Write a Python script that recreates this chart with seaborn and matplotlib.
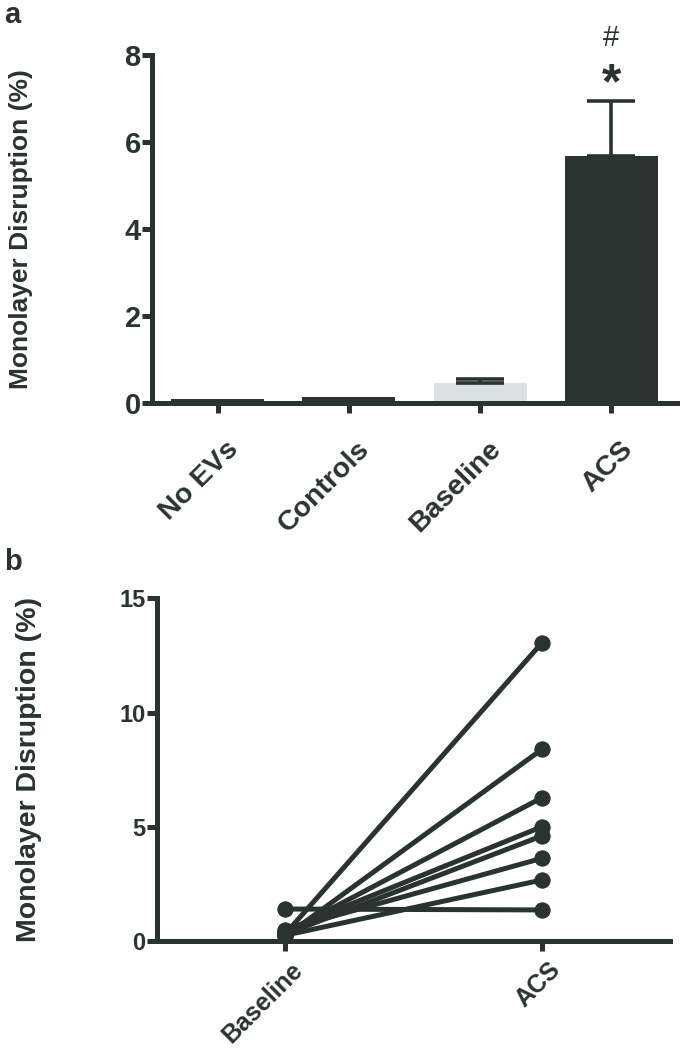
import matplotlib
matplotlib.use("Agg")
import matplotlib.pyplot as plt
import matplotlib.transforms as mtransforms
import seaborn as sns
import numpy as np
import pandas as pd

# ---- data ----
groups_a = ["No EVs", "Controls", "Baseline", "ACS"]
means_a = [0.10, 0.13, 0.47, 5.68]
sem_a = [0.0, 0.0, 0.09, 1.27]

subjects = [1, 2, 3, 4, 5, 6, 7, 8]
baseline_b = [0.30, 0.20, 0.35, 0.45, 0.30, 0.50, 0.25, 1.40]
acs_b = [13.05, 8.39, 6.27, 5.00, 4.60, 3.62, 2.67, 1.36]
conds_b = ["Baseline", "ACS"]

DARK = "#2b3331"
LIGHT = "#d9e1e2"
bar_colors = [DARK, DARK, LIGHT, DARK]

sns.set_theme(style="ticks")
plt.rcParams["font.family"] = ["Liberation Sans", "DejaVu Sans"]
plt.rcParams["axes.edgecolor"] = DARK
plt.rcParams["xtick.color"] = DARK
plt.rcParams["ytick.color"] = DARK
plt.rcParams["text.color"] = DARK
plt.rcParams["axes.labelcolor"] = DARK

fig = plt.figure(figsize=(6.84, 10.5), dpi=100)


def shift_labels(ax, dx_px, dy_px):
    off = mtransforms.ScaledTranslation(dx_px / 100.0, dy_px / 100.0,
                                        fig.dpi_scale_trans)
    for lab in ax.get_xticklabels():
        lab.set_transform(lab.get_transform() + off)


# ---------------- panel a ----------------
ax1 = fig.add_axes([0.222, 0.6162, 0.768, 0.3314])
df_a = pd.DataFrame({"group": groups_a, "value": means_a})
sns.barplot(data=df_a, x="group", y="value", hue="group", palette=bar_colors,
            order=groups_a, hue_order=groups_a, width=0.71, errorbar=None,
            legend=False, ax=ax1, saturation=1, edgecolor="none")
xpos = np.arange(len(groups_a))
err = np.array(sem_a)
mask = err > 0
ax1.errorbar(xpos[mask], np.array(means_a)[mask],
             yerr=[np.zeros(mask.sum()), err[mask]],
             fmt="none", ecolor=DARK, elinewidth=2.6, capsize=17, capthick=2.6,
             zorder=1)
ax1.set_xlim(-0.5, 3.5)
ax1.set_ylim(0, 8)
ax1.set_yticks([0, 2, 4, 6, 8])
ax1.set_xlabel("")
ax1.set_ylabel("Monolayer Disruption (%)", fontsize=19, fontweight="bold")
ax1.yaxis.set_label_coords(-(152 - 33) / 525.0, 0.5)
for s in ["top", "right"]:
    ax1.spines[s].set_visible(False)
for s in ["left", "bottom"]:
    ax1.spines[s].set_linewidth(3.6)
ax1.tick_params(axis="y", length=7, width=3.6, pad=1)
ax1.tick_params(axis="x", length=7, width=3.6, pad=17)
ax1.set_yticklabels(["0", "2", "4", "6", "8"], fontsize=21, fontweight="bold")
ax1.set_xticks(xpos)
ax1.set_xticklabels(groups_a, rotation=45, ha="right", rotation_mode="anchor",
                    fontsize=20.5, fontweight="bold")
shift_labels(ax1, 8, 0)
ax1.text(3, 7.3, "*", ha="center", va="center", fontsize=36,
         fontweight="bold", color=DARK, clip_on=False)
ax1.text(3, 8.38, "#", ha="center", va="center", fontsize=21,
         color=DARK, clip_on=False)
fig.text(0.006, 0.999, "a", fontsize=21, fontweight="bold", va="top", ha="left")

# ---------------- panel b ----------------
ax2 = fig.add_axes([0.229, 0.1038, 0.751, 0.3264])
df_b = pd.DataFrame({
    "subject": subjects * 2,
    "cond": [conds_b[0]] * len(subjects) + [conds_b[1]] * len(subjects),
    "value": baseline_b + acs_b,
})
df_b["xpos"] = df_b["cond"].map({c: i for i, c in enumerate(conds_b)})
sns.lineplot(data=df_b, x="xpos", y="value", units="subject", estimator=None,
             color=DARK, linewidth=3.6, marker="o", markersize=11,
             markeredgecolor=DARK, ax=ax2, clip_on=False)
ax2.set_xlim(-0.5, 1.5)
ax2.set_ylim(0, 15)
ax2.set_yticks([0, 5, 10, 15])
ax2.set_xticks([0, 1])
ax2.set_xlabel("")
ax2.set_ylabel("Monolayer Disruption (%)", fontsize=20.5, fontweight="bold")
ax2.yaxis.set_label_coords(-(156.7 - 42) / 513.7, 0.5)
for s in ["top", "right"]:
    ax2.spines[s].set_visible(False)
for s in ["left", "bottom"]:
    ax2.spines[s].set_linewidth(3.6)
ax2.tick_params(axis="y", length=7, width=3.6, pad=1)
ax2.tick_params(axis="x", length=7, width=3.6, pad=5)
ax2.set_yticklabels(["0", "5", "10", "15"], fontsize=17, fontweight="bold")
ax2.set_xticklabels(conds_b, rotation=45, ha="right", rotation_mode="anchor",
                    fontsize=18, fontweight="bold")
shift_labels(ax2, 6, 0)
fig.text(0.006, 0.478, "b", fontsize=21, fontweight="bold", va="top", ha="left")

fig.savefig("out.png", dpi=100)
